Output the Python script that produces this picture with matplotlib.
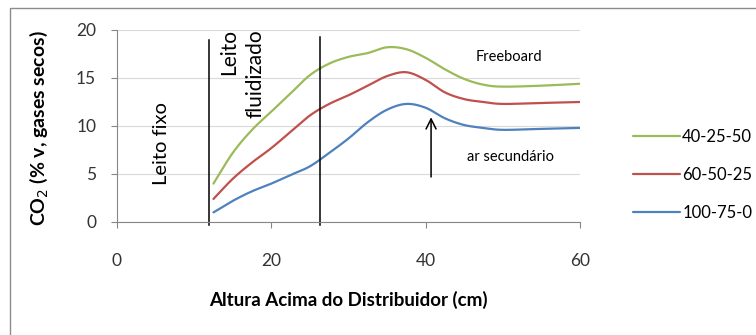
import numpy as np
import matplotlib
matplotlib.use("Agg")
import matplotlib.pyplot as plt
from matplotlib.patches import Rectangle

plt.rcParams['font.family'] = ['Lato', 'DejaVu Sans']

# ---- data ----
altura = [12.5, 15.0, 17.5, 20.0, 22.5, 25.0, 27.5, 30.0, 32.5, 35.0, 37.5, 40.0, 42.5, 45.0, 47.5, 50.0, 55.0, 60.0]
s_40_25_50 = [4.0, 7.2, 9.6, 11.5, 13.4, 15.3, 16.5, 17.2, 17.6, 18.2, 18.0, 17.1, 15.9, 14.9, 14.3, 14.1, 14.2, 14.4]
s_60_50_25 = [2.4, 4.5, 6.2, 7.7, 9.4, 11.1, 12.3, 13.2, 14.2, 15.2, 15.6, 14.8, 13.5, 12.8, 12.5, 12.3, 12.4, 12.5]
s_100_75_0 = [1.0, 2.2, 3.2, 4.0, 4.9, 5.8, 7.2, 8.7, 10.4, 11.7, 12.3, 11.9, 10.8, 10.1, 9.8, 9.6, 9.7, 9.8]
series_names = ["40-25-50", "60-50-25", "100-75-0"]
series_colors = ["#9BBB59", "#C0504D", "#4F81BD"]

zone_bounds = [11.9, 26.3]
zone_tops = [18.95, 19.3]
xticks = [0, 20, 40, 60]
yticks = [0, 5, 10, 15, 20]


def smooth(x, y, n=20):
    """Catmull-Rom style smoothing (like Excel's smoothed line)."""
    x = np.asarray(x, float); y = np.asarray(y, float)
    P = np.column_stack([x, y])
    P = np.vstack([2 * P[0] - P[1], P, 2 * P[-1] - P[-2]])
    out = []
    for i in range(1, len(P) - 2):
        p0, p1, p2, p3 = P[i - 1], P[i], P[i + 1], P[i + 2]
        t = np.linspace(0, 1, n, endpoint=False)[:, None]
        pts = 0.5 * ((2 * p1) + (-p0 + p2) * t + (2 * p0 - 5 * p1 + 4 * p2 - p3) * t ** 2
                     + (-p0 + 3 * p1 - 3 * p2 + p3) * t ** 3)
        out.append(pts)
    out.append(P[-2][None, :])
    out = np.vstack(out)
    return out[:, 0], out[:, 1]


W, H = 756, 335
fig = plt.figure(figsize=(W / 100, H / 100), dpi=100)
fig.patches.append(Rectangle((10 / W, -0.05), 1.1, 1 - 8 / H + 0.05, transform=fig.transFigure,
                             fill=False, edgecolor="#8C8C8C", linewidth=1.0))

ax = fig.add_axes([117 / W, (H - 222) / H, (580 - 117) / W, (222 - 30) / H])
ax.set_xlim(0, 60)
ax.set_ylim(0, 20)

for y, name, col in zip([s_40_25_50, s_60_50_25, s_100_75_0], series_names, series_colors):
    xs, ys = smooth(altura, y)
    ax.plot(xs, ys, color=col, linewidth=1.6, label=name, solid_capstyle='round')

for xb, top in zip(zone_bounds, zone_tops):
    ax.plot([xb, xb], [-0.3, top], color="black", linewidth=1.1, clip_on=False)

ax.annotate("", xy=(40.7, 11.2), xytext=(40.7, 4.4),
            arrowprops=dict(arrowstyle="->", color="black", lw=1.1, mutation_scale=18))

ax.text(5.8, 8.2, "Leito fixo", rotation=90, ha="center", va="center", fontsize=14.5)
ax.text(14.5, 20.1, "Leito", rotation=90, ha="center", va="top", fontsize=15)
ax.text(17.9, 20.1, "fluidizado", rotation=90, ha="center", va="top", fontsize=15)
ax.text(50.8, 17.2, "Freeboard", ha="center", va="center", fontsize=10.5)
ax.text(51.0, 6.8, "ar secundário", ha="center", va="center", fontsize=10.5)

ax.set_xticks(xticks)
ax.set_yticks(yticks)
ax.tick_params(axis="both", labelsize=12.5, colors="#868686", labelcolor="#333333", length=4, width=0.8)
ax.tick_params(axis="x", pad=18)
ax.tick_params(axis="y", pad=11)
ax.grid(axis="y", color="#D9D9D9", linewidth=0.8)
ax.set_axisbelow(True)
for s in ["top", "right"]:
    ax.spines[s].set_visible(False)
for s in ["left", "bottom"]:
    ax.spines[s].set_color("#868686")
    ax.spines[s].set_linewidth(0.8)

ax.set_xlabel("Altura Acima do Distribuidor (cm)", fontsize=13.5, fontweight="bold", labelpad=16)
ax.set_ylabel("CO$_2$ (% v, gases secos)", fontsize=14, fontweight="bold", labelpad=8)
ax.yaxis.set_label_coords(-(117 - 50) / (580 - 117), 0.49)

leg = ax.legend(loc="center left", bbox_to_anchor=(618 / W, (H - 175) / H),
                bbox_transform=fig.transFigure, frameon=False, fontsize=12,
                handlelength=2.8, handletextpad=0.15, labelspacing=1.3)

fig.savefig("out.png", dpi=100)
